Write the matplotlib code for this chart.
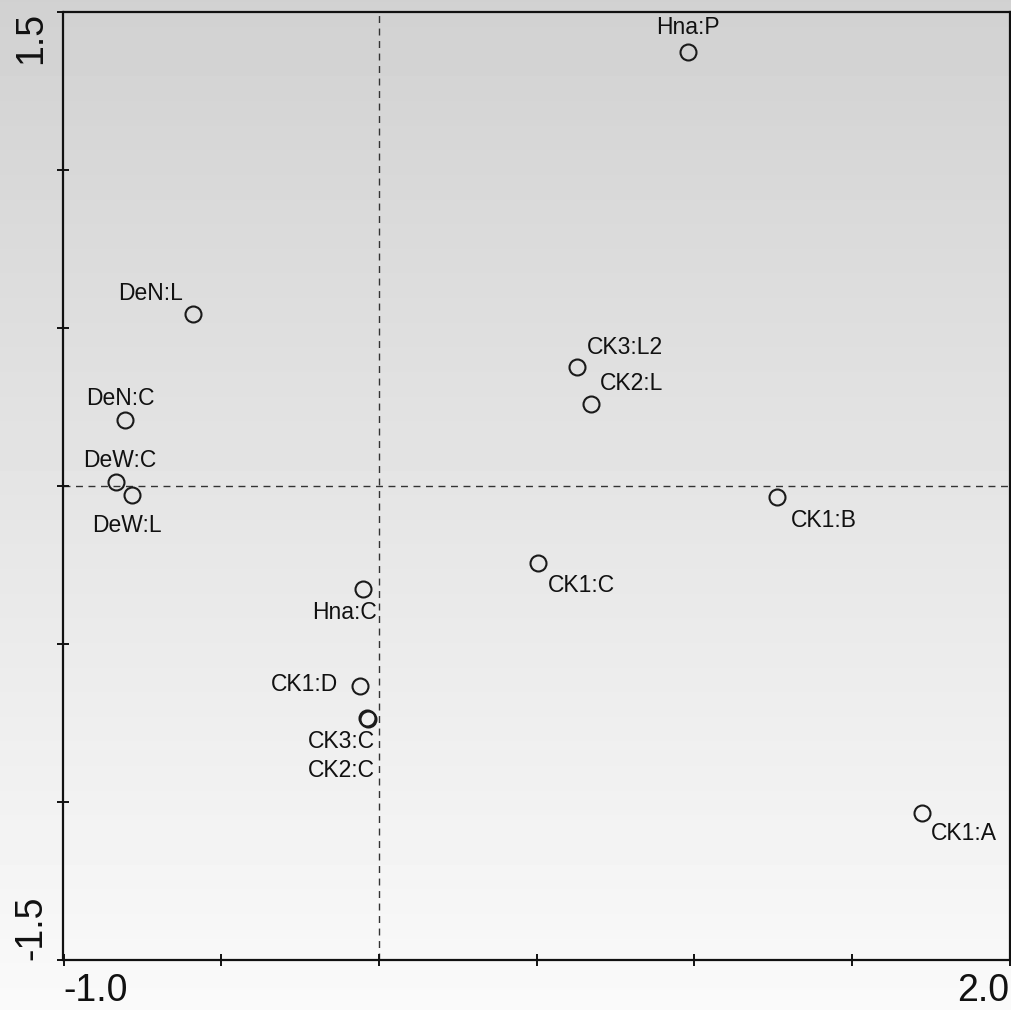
import numpy as np
import matplotlib
matplotlib.use('Agg')
import matplotlib.pyplot as plt

plt.rcParams['font.family'] = ['Liberation Sans', 'DejaVu Sans']

# ----- data (ordination scores) -----
SAMPLES = ['Hna:P', 'DeN:L', 'CK3:L2', 'CK2:L', 'DeN:C', 'DeW:C', 'DeW:L',
           'CK1:B', 'CK1:C', 'Hna:C', 'CK1:D', 'CK3:C', 'CK2:C', 'CK1:A']
AXIS1 = [0.979, -0.589, 0.627, 0.674, -0.805, -0.833, -0.782,
         1.264, 0.506, -0.049, -0.059, -0.036, -0.034, 1.721]
AXIS2 = [1.372, 0.542, 0.374, 0.257, 0.206, 0.010, -0.031,
         -0.037, -0.246, -0.326, -0.636, -0.737, -0.740, -1.035]

X_TICKS = [-1.0, -0.5, 0.0, 0.5, 1.0, 1.5, 2.0]
Y_TICKS = [-1.5, -1.0, -0.5, 0.0, 0.5, 1.0, 1.5]

# label placement: (dx px, dy px, horizontal alignment)
LABEL_POS = {
    'Hna:P': (0, 24, 'center'),
    'DeN:L': (-10, 21, 'right'),
    'CK3:L2': (10, 20, 'left'),
    'CK2:L': (9, 21, 'left'),
    'DeN:C': (-5, 22, 'center'),
    'DeW:C': (4, 22, 'center'),
    'DeW:L': (-5, -30, 'center'),
    'CK1:B': (13, -23, 'left'),
    'CK1:C': (9, -22, 'left'),
    'Hna:C': (13, -24, 'right'),
    'CK1:D': (-22, 2, 'right'),
    'CK3:C': (8, -23, 'right'),
    'CK2:C': (7, -51, 'right'),
    'CK1:A': (9, -21, 'left'),
}

W, H = 1012, 1010
fig = plt.figure(figsize=(W / 100, H / 100), dpi=100)

# grey-to-white vertical gradient behind everything
grad = np.linspace(0.98, 0.82, H)[:, None] * np.ones((1, W))
fig.figimage(grad, cmap='gray', vmin=0, vmax=1, origin='lower', zorder=0)

ax = fig.add_axes([63.5 / W, 1 - 959.5 / H, 946 / W, 948 / H])
ax.set_zorder(2)
ax.set_facecolor('none')
ax.set_xlim(-1.0, 2.0)
ax.set_ylim(-1.5, 1.5)

ax.axhline(0, color='#333333', lw=1, ls=(0, (5, 4)), zorder=1)
ax.axvline(0, color='#333333', lw=1, ls=(0, (5, 4)), zorder=1)

ax.plot(AXIS1, AXIS2, 'o', ms=11.5, mfc='none', mec='#1a1a1a', mew=1.5,
        zorder=3)

for name, x, y in zip(SAMPLES, AXIS1, AXIS2):
    dx, dy, ha = LABEL_POS[name]
    ax.annotate(name, (x, y), xytext=(dx, dy), textcoords='offset pixels',
                ha=ha, va='center', fontsize=16.5, color='#111111')

for side in ['left', 'bottom', 'top', 'right']:
    ax.spines[side].set_linewidth(1.6)
    ax.spines[side].set_color('#111111')

x_labels = ['-1.0', '', '', '', '', '', '2.0']
y_labels = ['-1.5', '', '', '', '', '', '1.5']
ax.set_xticks(X_TICKS, labels=x_labels)
ax.set_yticks(Y_TICKS, labels=y_labels)
ax.tick_params(direction='inout', length=9, width=1.4, colors='#111111',
               labelsize=27, pad=5)
ax.tick_params(axis='y', labelrotation=90, pad=6)

xl = ax.get_xticklabels()
xl[0].set_ha('left')
xl[-1].set_ha('right')
yl = ax.get_yticklabels()
yl[0].set_va('bottom')
yl[-1].set_va('top')

fig.savefig('out.png', dpi=100)
